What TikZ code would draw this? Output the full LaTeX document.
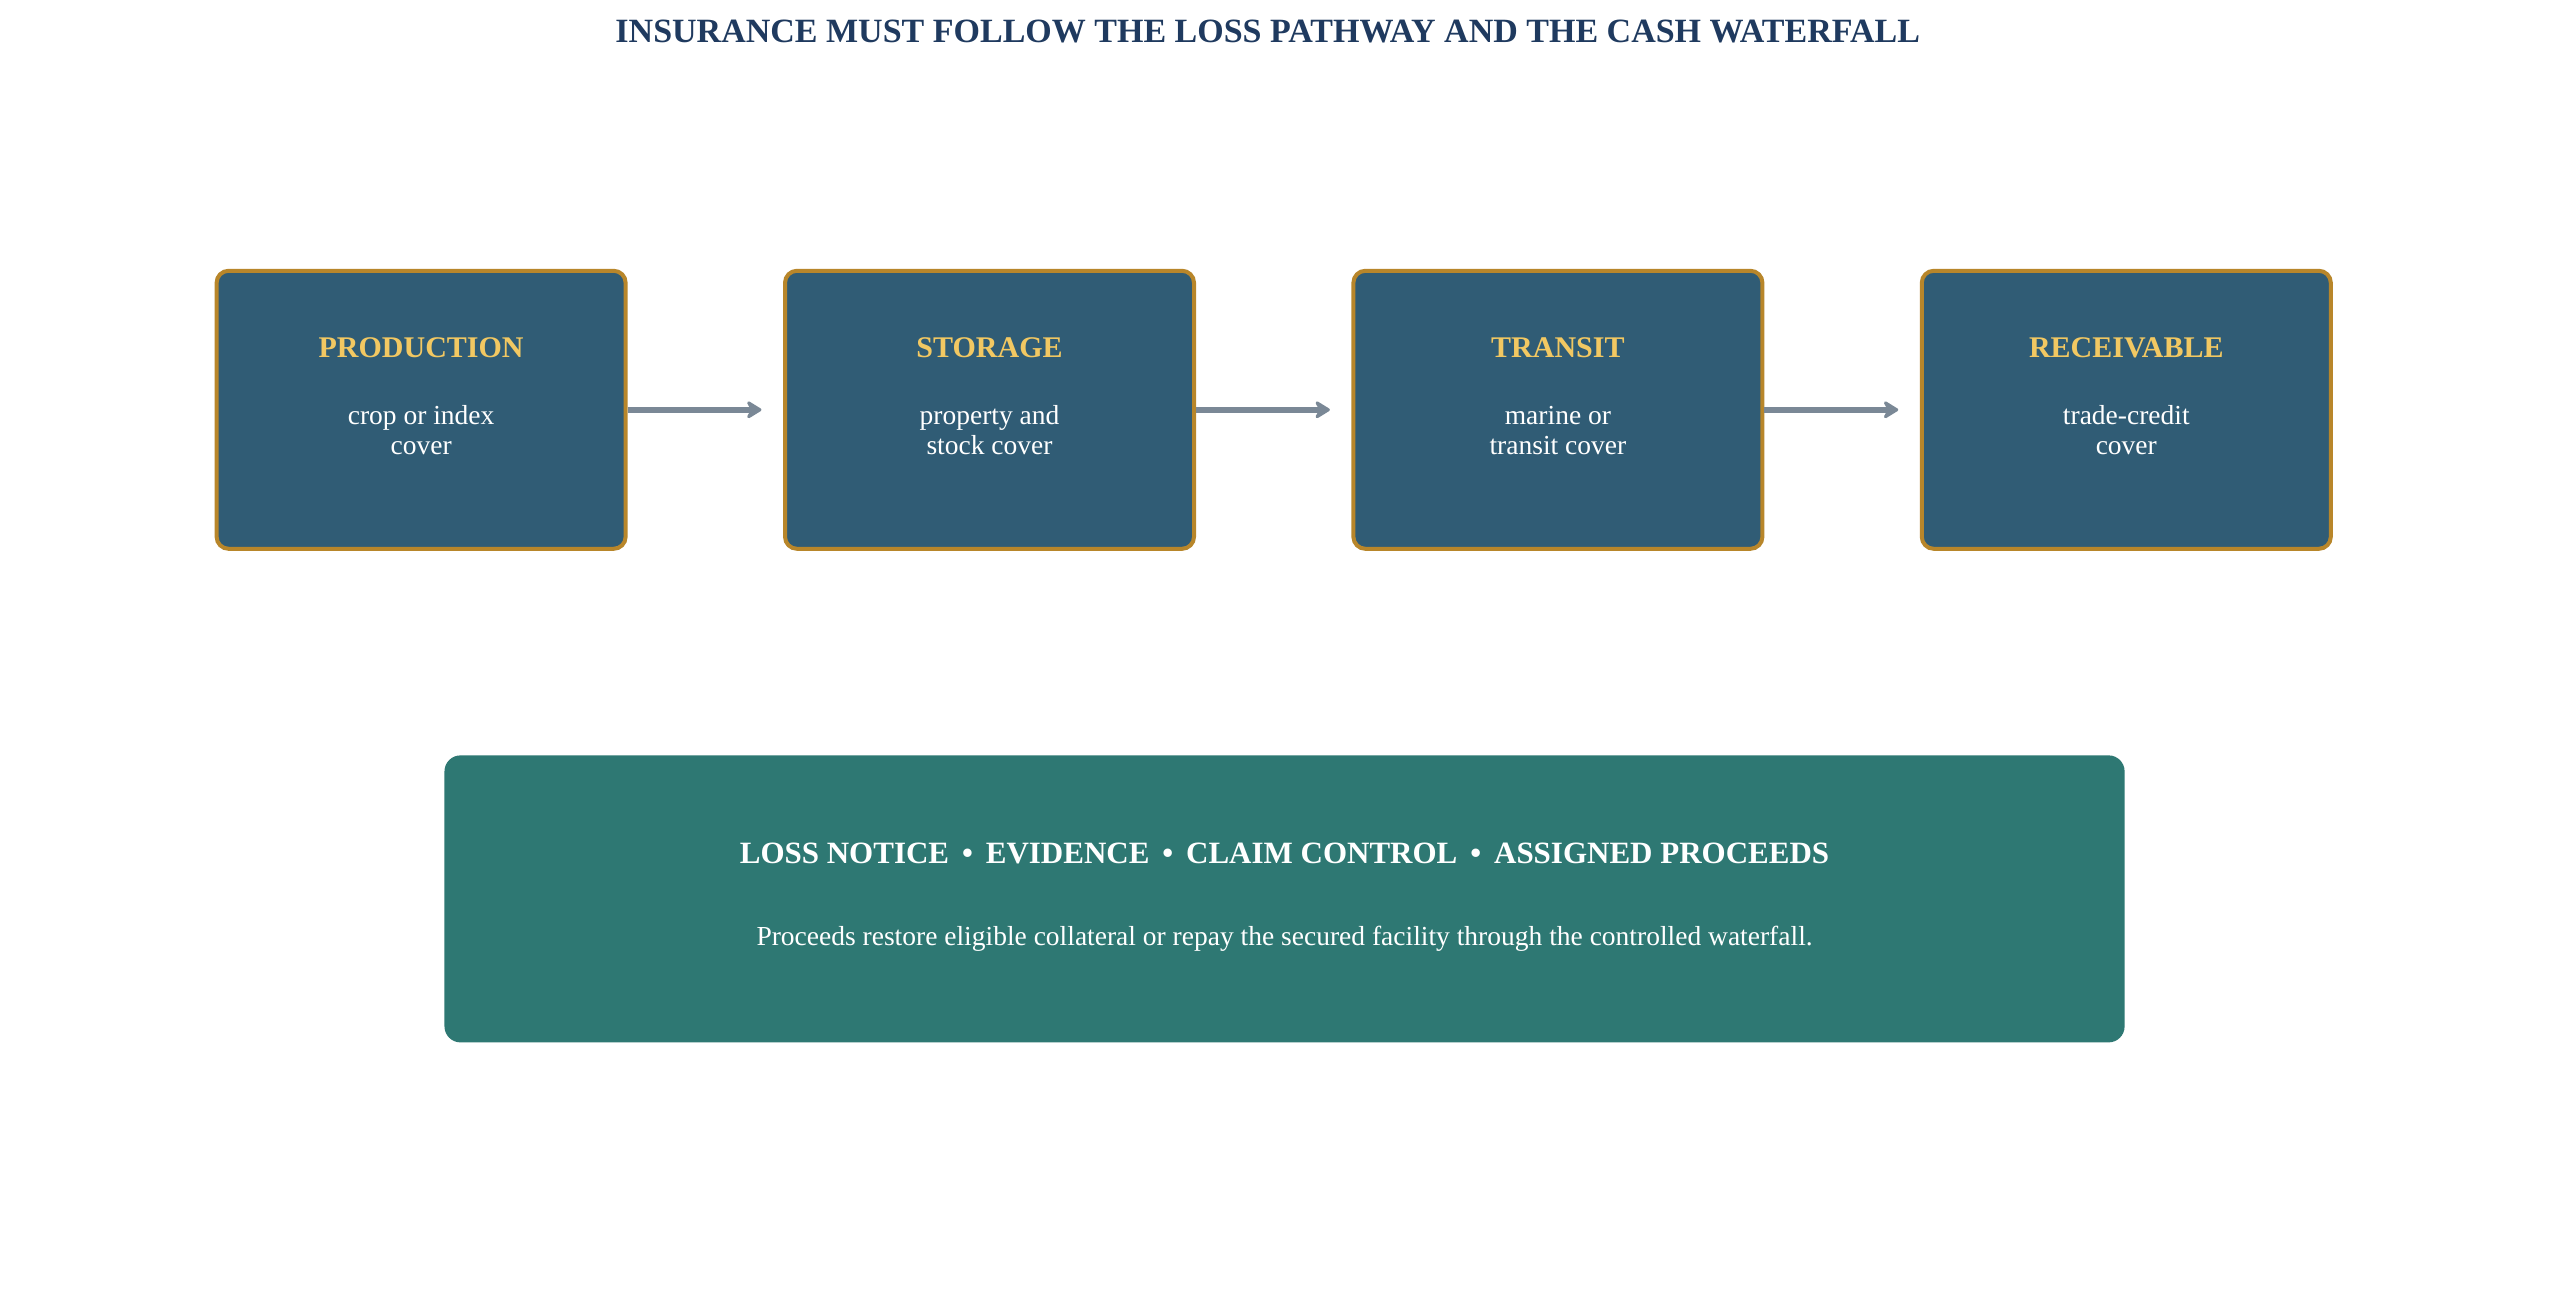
\documentclass[tikz,border=0pt]{standalone}
\usepackage{fontspec}
\setmainfont{Liberation Serif}
\usetikzlibrary{arrows.meta}
\definecolor{navy}{HTML}{1F3A5F}
\definecolor{boxfill}{HTML}{305C75}
\definecolor{gold}{HTML}{B8862A}
\definecolor{yel}{HTML}{F2C862}
\definecolor{arr}{HTML}{7A8896}
\definecolor{teal}{HTML}{2E7873}
\begin{document}
\begin{tikzpicture}[x=0.985pt,y=-0.985pt,
  stage/.style={draw=gold,line width=4pt,fill=boxfill,rounded corners=12pt,minimum width=409pt,minimum height=278pt,inner sep=0pt},
  head/.style={text=yel,font=\fontsize{30}{35}\selectfont\bfseries},
  body/.style={text=white,font=\fontsize{27.5}{30}\selectfont,align=center},
  flow/.style={draw=arr,line width=6pt,-{Stealth[length=18pt,width=22pt,inset=6pt,round]}}]
\useasboundingbox (0,0) rectangle (2613,1318);
\fill[white] (0,0) rectangle (2613,1318);
\node[text=navy,font=\fontsize{34}{40}\selectfont\bfseries] (title) at (1287,32) {INSURANCE MUST FOLLOW THE LOSS PATHWAY AND THE CASH WATERFALL};
\foreach \n/\x/\h/\a/\b in {p/427.5/PRODUCTION/crop or index/cover, s/1004.5/STORAGE/property and/stock cover, t/1581.5/TRANSIT/marine or/transit cover, r/2158.5/RECEIVABLE/trade-credit/cover}{
  \node[stage] (\n) at (\x,416) {};
  \node[head] (\n h) at (\x,353) {\h};
  \node[body] (\n b) at (\x,437) {\a\\\b};
}
\coordinate (e1) at (773,416);
\coordinate (e2) at (1350,416);
\coordinate (e3) at (1927,416);
\draw[flow] (p.east) -- (e1);
\draw[flow] (s.east) -- (e2);
\draw[flow] (t.east) -- (e3);
\node[fill=teal,rounded corners=16pt,minimum width=1680pt,minimum height=287pt] (bot) at (1304,912.5) {};
\node[text=white,font=\fontsize{31}{36}\selectfont\bfseries] (both) at (1304,866) {LOSS NOTICE \,\textbullet\, EVIDENCE \,\textbullet\, CLAIM CONTROL \,\textbullet\, ASSIGNED PROCEEDS};
\node[text=white,font=\fontsize{27.5}{32}\selectfont] (bots) at (1304,953) {Proceeds restore eligible collateral or repay the secured facility through the controlled waterfall.};
\end{tikzpicture}
\end{document}
